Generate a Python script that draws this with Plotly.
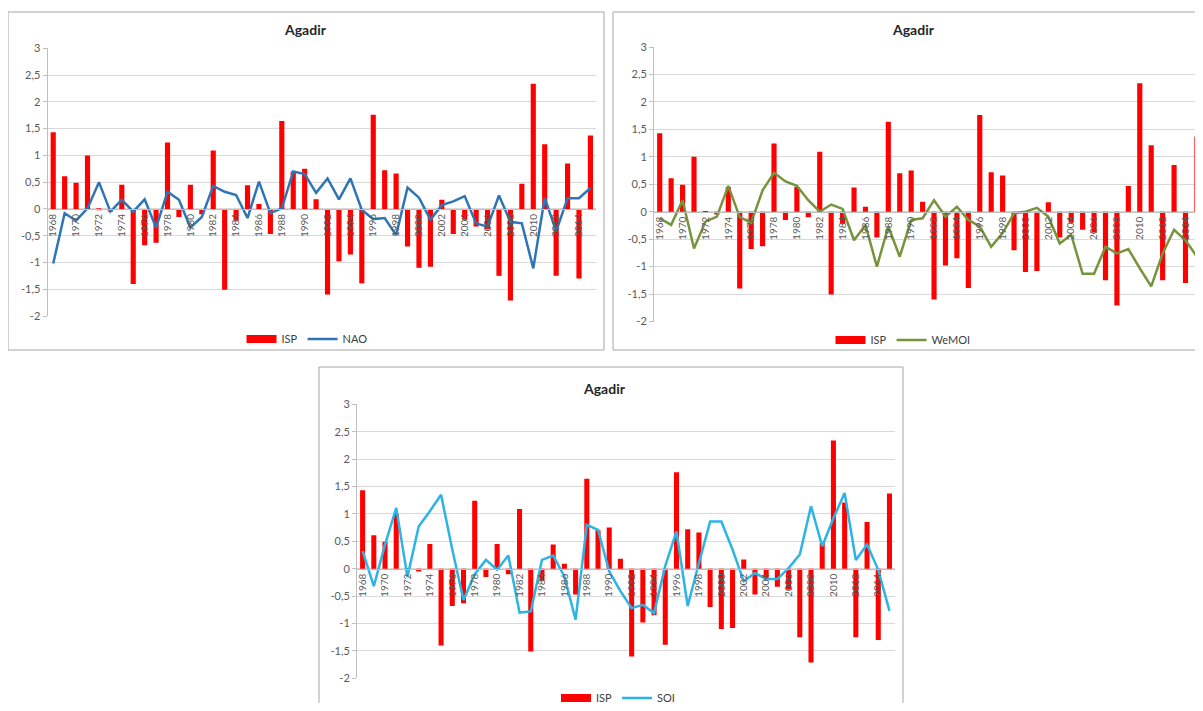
import plotly.graph_objects as go

# ---------------- data ----------------
YEARS = list(range(1968, 2016))
ISP = [1.43, 0.61, 0.49, 1.00, -0.02, -0.05, 0.45, -1.40, -0.68, -0.63,
       1.24, -0.15, 0.45, -0.10, 1.09, -1.51, -0.22, 0.44, 0.09, -0.47,
       1.64, 0.70, 0.75, 0.18, -1.60, -0.98, -0.85, -1.39, 1.76, 0.72,
       0.66, -0.70, -1.10, -1.08, 0.17, -0.47, -0.20, -0.33, -0.38, -1.25,
       -1.71, 0.47, 2.34, 1.21, -1.25, 0.85, -1.30, 1.37]
NAO = [-1.02, -0.08, -0.22, 0.01, 0.50, -0.05, 0.17, -0.05, 0.18, -0.35,
       0.32, 0.17, -0.35, -0.15, 0.43, 0.32, 0.26, -0.17, 0.51, -0.08,
       0.01, 0.70, 0.65, 0.30, 0.57, 0.18, 0.57, -0.02, -0.19, -0.17,
       -0.49, 0.40, 0.21, -0.20, 0.07, 0.14, 0.24, -0.27, -0.33, 0.25,
       -0.24, -0.27, -1.11, 0.21, -0.42, 0.20, 0.20, 0.39]
WEMOI = [-0.12, -0.24, 0.21, -0.67, -0.18, -0.09, 0.47, -0.10, -0.20, 0.39,
         0.71, 0.55, 0.47, 0.21, 0.00, 0.13, 0.05, -0.52, -0.24, -1.00,
         -0.27, -0.82, -0.15, -0.12, 0.21, -0.09, 0.09, -0.15, -0.27, -0.64,
         -0.39, -0.03, 0.00, 0.07, -0.09, -0.58, -0.42, -1.13, -1.13, -0.64,
         -0.76, -0.68, -1.03, -1.36, -0.76, -0.33, -0.52, -0.82]
SOI = [0.32, -0.32, 0.44, 1.11, -0.15, 0.77, 1.05, 1.35, 0.35, -0.57,
       -0.10, 0.16, -0.02, 0.24, -0.80, -0.78, 0.16, 0.24, -0.14, -0.93,
       0.80, 0.71, -0.05, -0.41, -0.72, -0.66, -0.81, 0.05, 0.68, -0.68,
       0.10, 0.86, 0.86, 0.35, -0.23, -0.08, -0.19, -0.19, 0.01, 0.26,
       1.14, 0.41, 0.92, 1.38, 0.16, 0.44, -0.02, -0.77]
Y_TICKS = [3, 2.5, 2, 1.5, 1, 0.5, 0, -0.5, -1, -1.5, -2]
Y_TICK_LABELS = ["3", "2,5", "2", "1,5", "1", "0,5", "0", "-0,5", "-1", "-1,5", "-2"]
TITLE = "Agadir"

VIEW_W, VIEW_H = 1203, 711
OFF = 8  # default page body margin of the html document
W, H = VIEW_W - OFF, VIEW_H - 2 * OFF


def px(x):
    return (x - OFF) / W


def py(y):
    return 1 - (y - OFF) / H


YMIN, YMAX = -2, 3

panels = [
    dict(n="", left=47.5, step=11.43, ytop=48.3, ybot=316, border=(8, 604, 12, 350), title=(305, 30),
         legend=(307, 339), name="NAO", vals=NAO, color="#2E75B6"),
    dict(n="2", left=654, step=11.43, ytop=47, ybot=321.5, border=(613, 1215, 12, 350), title=(913, 30),
         legend=(903, 340), name="WeMOI", vals=WEMOI, color="#77933C"),
    dict(n="3", left=357, step=11.21, ytop=404.3, ybot=678.3, border=(319, 903, 367, 730), title=(604, 389),
         legend=(618, 698), name="SOI", vals=SOI, color="#2DB4E6"),
]

fig = go.Figure()
layout = dict(width=W, height=H, autosize=False,
              margin=dict(l=0, r=0, t=0, b=0, pad=0, autoexpand=False),
              paper_bgcolor="white", plot_bgcolor="white", bargap=0.55,
              font=dict(family="Lato, Liberation Sans, sans-serif", color="#595959"),
              shapes=[], annotations=[])

for p in panels:
    n = p["n"]
    xd0 = px(p["left"])
    xd1 = min(px(p["left"] + 48 * p["step"]), 1.0)
    xmax = 1967.5 + (xd1 - xd0) * W / p["step"]
    ydom = [py(p["ybot"]), py(p["ytop"])]
    zero_pos = ydom[0] + (0 - YMIN) / (YMAX - YMIN) * (ydom[1] - ydom[0])
    leg = "legend" + n
    xa = "x" + n
    ya = "y" + n
    fig.add_trace(go.Bar(x=YEARS, y=ISP, name="ISP", marker=dict(color="#FF0000", line=dict(width=0)),
                         xaxis=xa, yaxis=ya, legend=leg, showlegend=False))
    # legend key for the bars (Excel-style wide rectangle)
    fig.add_trace(go.Scatter(x=[None], y=[None], name="ISP", mode="lines",
                             line=dict(color="#FF0000", width=8),
                             xaxis=xa, yaxis=ya, legend=leg))
    fig.add_trace(go.Scatter(x=YEARS, y=p["vals"], name=p["name"], mode="lines",
                             line=dict(color=p["color"], width=2.5),
                             xaxis=xa, yaxis=ya, legend=leg))
    layout["xaxis" + n] = dict(domain=[xd0, xd1], range=[1967.5, xmax],
                               anchor="free", position=zero_pos, automargin=False,
                               tick0=1968, dtick=2, tickangle=-90,
                               showgrid=False, zeroline=False,
                               showline=True, linecolor="#BFBFBF", linewidth=1,
                               ticks="", tickfont=dict(size=10, color="#595959"))
    layout["yaxis" + n] = dict(domain=ydom, range=[YMIN, YMAX], anchor=xa, automargin=False,
                               tickvals=Y_TICKS, ticktext=Y_TICK_LABELS,
                               showgrid=True, gridcolor="#D9D9D9", gridwidth=1,
                               zeroline=False, showline=True, linecolor="#BFBFBF",
                               ticks="outside", ticklen=4, tickcolor="#BFBFBF",
                               tickfont=dict(size=11, color="#595959"))
    lx, ly = p["legend"]
    layout[leg] = dict(orientation="h", x=px(lx), y=py(ly), xanchor="center", yanchor="middle",
                       bgcolor="rgba(0,0,0,0)", font=dict(size=11, color="#404040"),
                       itemwidth=30, tracegroupgap=0)
    bx0, bx1, by0, by1 = p["border"]
    layout["shapes"].append(dict(type="rect", xref="paper", yref="paper",
                                 x0=px(bx0), x1=px(bx1), y0=py(by1), y1=py(by0),
                                 line=dict(color="#A6A6A6", width=1), fillcolor="rgba(0,0,0,0)",
                                 layer="below"))
    tx, ty = p["title"]
    layout["annotations"].append(dict(text="<b>" + TITLE + "</b>", xref="paper", yref="paper",
                                      x=px(tx), y=py(ty), xanchor="center", yanchor="middle",
                                      showarrow=False, font=dict(size=14, color="#262626")))

fig.update_layout(**layout)
fig.write_html("out.html")
